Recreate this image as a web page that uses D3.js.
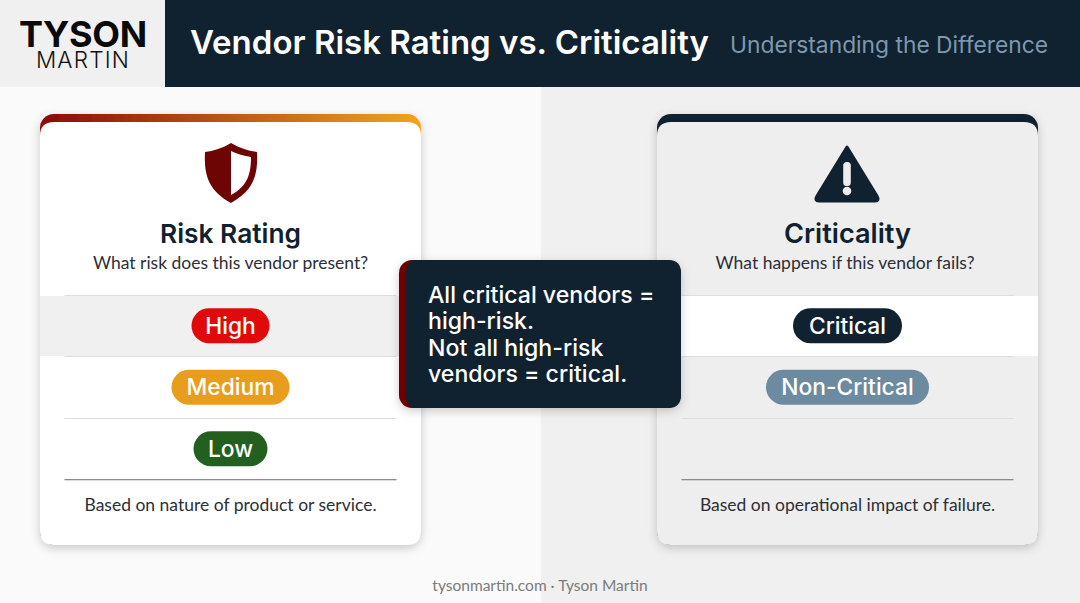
<!DOCTYPE html>
<html><head><meta charset="utf-8">
<script src="https://cdn.jsdelivr.net/npm/d3@7"></script>
<style>html,body{margin:0;padding:0;background:#fff;overflow:hidden}svg{display:block}</style>
</head><body><svg id="c" width="1080" height="603"></svg>
<script>
const titleText = "Vendor Risk Rating vs. Criticality";
const subtitleText = "Understanding the Difference";
const logoTop = "TYSON", logoBottom = "MARTIN";
const cardTitles = ["Risk Rating", "Criticality"];
const cardQuestions = ["What risk does this vendor present?", "What happens if this vendor fails?"];
const cardNotes = ["Based on nature of product or service.", "Based on operational impact of failure."];
const riskLabels = ["High", "Medium", "Low"];
const riskColors = ["#e00a0a", "#e89d1c", "#236020"];
const riskWidths = [78, 118, 74];
const critLabels = ["Critical", "Non-Critical"];
const critColors = ["#10212f", "#6c8aa0"];
const critWidths = [109, 163];
const calloutLines = ["All critical vendors =", "high-risk.", "Not all high-risk", "vendors = critical."];
const footerText = "tysonmartin.com · Tyson Martin";

const H = "Inter, 'Open Sans', sans-serif", B = "Lato, sans-serif";
const navy = "#10212f";
const svg = d3.select("#c");
const defs = svg.append("defs");
const g1 = defs.append("linearGradient").attr("id","grad");
g1.append("stop").attr("offset","0").attr("stop-color","#8b0a0a");
g1.append("stop").attr("offset","1").attr("stop-color","#eda61e");
const f = defs.append("filter").attr("id","sh").attr("x","-10%").attr("y","-10%").attr("width","120%").attr("height","120%");
f.append("feDropShadow").attr("dx",0).attr("dy",3).attr("stdDeviation",5).attr("flood-color","#000").attr("flood-opacity",0.2);

const rect=(p,x,y,w,h,fill,r)=>p.append("rect").attr("x",x).attr("y",y).attr("width",w).attr("height",h).attr("fill",fill).attr("rx",r||0);
const text=(p,s,x,y,size,fill,fam,wt,anchor)=>p.append("text").text(s).attr("x",x).attr("y",y).attr("font-size",size).attr("fill",fill).attr("font-family",fam).attr("font-weight",wt||400).attr("text-anchor",anchor||"middle");

// background
rect(svg,0,0,541,603,"#fafafa");
rect(svg,541,0,539,603,"#f0f0f0");
// header
rect(svg,0,0,165,87,"#f0f0f0");
rect(svg,165,0,915,87,navy);
text(svg,logoTop,83,46.5,36,"#0a0a0a","Inter, sans-serif",700).attr("letter-spacing",-0.3);
text(svg,logoBottom,83,67.5,22.5,"#111","Inter, sans-serif",300).attr("letter-spacing",1.2);
text(svg,titleText,190,54,33,"#fff",H,600,"start");
text(svg,subtitleText,730,53,22.8,"#7f98ad",H,400,"start");

// cards
const cardX = t => t===cardTitles[0]?40:657, cardW=381;
const rowY = d3.scaleBand().domain([0,1,2]).range([295,479.5]);

function card(i, labels, colors, widths, bg, accent, rowFill, rowClipW){
  const x=cardX(cardTitles[i]), cx=x+cardW/2;
  const g=svg.append("g");
  rect(g,x,114,cardW,431,accent,14).attr("filter","url(#sh)");
  g.append("path").attr("d",`M${x},136 Q${x},122 ${x+14},122 H${x+cardW-14} Q${x+cardW},122 ${x+cardW},136 V531 Q${x+cardW},545 ${x+cardW-14},545 H${x+14} Q${x},545 ${x},531 Z`).attr("fill",bg);
  rect(g,x,296,rowClipW,60,rowFill);
  text(g,cardTitles[i],cx,243,i?27.2:26.3,navy,H,600);
  text(g,cardQuestions[i],i?cx-2.5:cx,269,17.5,"#2b2f36",B,400);
  [295,356,418].forEach(y=>rect(g,x+24.5,y,332,1,"#dedede"));
  rect(g,x+24.5,479,332,1.3,"#8a8a8a");
  labels.forEach((l,j)=>{
    const cy=rowY(j)+rowY.bandwidth()/2;
    rect(g,cx-widths[j]/2,cy-17.5,widths[j],35,colors[j],17.5);
    text(g,l,cx,cy+8,22.8,"#fff",H,500);
  });
  text(g,cardNotes[i],cx,510.5,17.5,"#2b2f36",B,400);
  return g;
}
card(0,riskLabels,riskColors,riskWidths,"#fff","url(#grad)","#f0f0f0",362);
card(1,critLabels,critColors,critWidths,"#eeeeee",navy,"#fff",381);

// icons
const sc=svg.append("g").attr("transform","translate(231,143)");
sc.append("path").attr("d","M0,0 C8,5 18,8 26,9 C27,30 24,47 0,60 C-24,47 -27,30 -26,9 C-18,8 -8,5 0,0 Z").attr("fill","#6e0505");
sc.append("path").attr("d","M0,8 C6,11 13,13 20,14 C20,30 17,43 0,52 Z").attr("fill","#fff");
const tr=svg.append("g").attr("transform","translate(847,144)");
tr.append("path").attr("d","M0,3 L30,52 Q33,57 28,57 H-28 Q-33,57 -30,52 Z").attr("fill",navy).attr("stroke",navy).attr("stroke-width",3).attr("stroke-linejoin","round");
tr.append("rect").attr("x",-3.8).attr("y",18).attr("width",7.6).attr("height",24).attr("rx",3.5).attr("fill","#eee");
tr.append("circle").attr("cx",0).attr("cy",47).attr("r",4.3).attr("fill","#eee");

// callout
const c=svg.append("g");
rect(c,399,260,282,148,"#6e0505",13).attr("filter","url(#sh)");
c.append("path").attr("d","M418,260 H668 Q681,260 681,273 V395 Q681,408 668,408 H418 Q406,408 406,395 V273 Q406,260 418,260 Z").attr("fill",navy);
const ly=d3.scalePoint().domain(d3.range(calloutLines.length)).range([303,382]);
calloutLines.forEach((l,i)=>text(c,l,428,ly(i),23.1,"#fff",H,500,"start"));

text(svg,footerText,540,591,15.5,"#7a7a7a",B,400);
</script></body></html>
